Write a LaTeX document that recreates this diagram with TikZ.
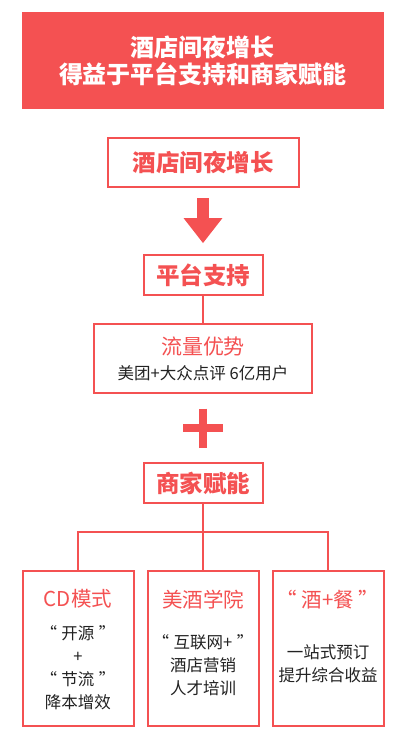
\documentclass[tikz,border=0pt]{standalone}
\usepackage{fontspec}
\setmainfont{Noto Sans CJK SC}
\usepackage{xcolor}
\definecolor{BrandRed}{HTML}{F45152}
\definecolor{TextDark}{HTML}{222222}
\usetikzlibrary{arrows.meta,positioning,calc}
\newcommand{\wideq}[1]{“\hspace{4.5pt}#1\hspace{4.5pt}”}
\tikzset{
  frbox/.style={draw=BrandRed, line width=2pt, fill=white, align=center, outer sep=0pt,
                inner sep=0pt},
  frhead/.style={frbox, text=BrandRed, font=\fontsize{23.5}{27}\selectfont\bfseries},
  frlink/.style={draw=BrandRed, line width=2pt},
  plusbar/.style={draw=BrandRed, line width=8pt}
}
\begin{document}
\begin{tikzpicture}[x=1pt, y=1pt, node distance=68pt and 14pt,
   colbox/.style={frbox, minimum width=111pt, minimum height=155pt},
   coltitle/.style={text=BrandRed, font=\fontsize{20.5}{24}\selectfont},
   colbody/.style={text=TextDark, align=center, font=\fontsize{16.5}{23}\selectfont}]
\useasboundingbox (0,0) rectangle (405,-740);
% banner
\node[fill=BrandRed, minimum width=362pt, minimum height=97pt, align=center,
      text=white, font=\fontsize{24}{27}\selectfont\bfseries] (banner) at (203,-60.5)
      {酒店间夜增长\\得益于平台支持和商家赋能};
% main column
\node[frhead, minimum width=191pt, minimum height=49pt, below=29pt of banner] (growth) {酒店间夜增长};
\node[frhead, minimum width=119pt, minimum height=40pt, below=of growth] (platform) {平台支持};
\node[frbox, minimum width=218pt, minimum height=69pt, below=29pt of platform,
      text=TextDark, font=\fontsize{16.5}{25}\selectfont] (traffic)
      {\textcolor{BrandRed}{\fontsize{21}{25}\selectfont 流量优势}\\美团+大众点评 6亿用户};
\node[frhead, minimum width=119pt, minimum height=40pt, below=70pt of traffic] (merchant) {商家赋能};
% bottom row
\node[colbox, below=of merchant] (academy) {};
\node[colbox, left=of academy] (cdmode) {};
\node[colbox, right=of academy] (dining) {};
\node[coltitle] (cdtitle) at ([yshift=-28pt]cdmode.north) {CD模式};
\node[coltitle] (actitle) at ([yshift=-28pt]academy.north) {美酒学院};
\node[coltitle] (dntitle) at ([yshift=-28pt]dining.north) {\wideq{酒+餐}};
\node[colbody] (cdbody) at ([yshift=-19pt]cdmode.center) {\wideq{开源}\\+\\\wideq{节流}\\降本增效};
\node[colbody] (acbody) at ([yshift=-16.5pt]academy.center) {\wideq{互联网+}\\酒店营销\\人才培训};
\node[colbody] (dnbody) at ([yshift=-15.5pt]dining.center) {一站式预订\\提升综合收益};
% arrow and links
\draw[BrandRed, line width=12pt, -{Triangle[width=37pt, length=25pt]}]
  ([yshift=-11pt]growth.south) -- ([yshift=12pt]platform.north);
\draw[frlink] (platform) -- (traffic);
\coordinate (plus) at ($(traffic.south)!0.5!(merchant.north)$);
\draw[plusbar] ([yshift=19.5pt]plus) -- ([yshift=-19.5pt]plus);
\draw[plusbar] ([xshift=-20pt]plus) -- ([xshift=20pt]plus);
\coordinate (bus) at ([yshift=-29pt]merchant.south);
\draw[frlink] (merchant) -- (academy);
\draw[frlink] (cdmode.north) |- (bus) -| (dining.north);
\end{tikzpicture}
\end{document}
